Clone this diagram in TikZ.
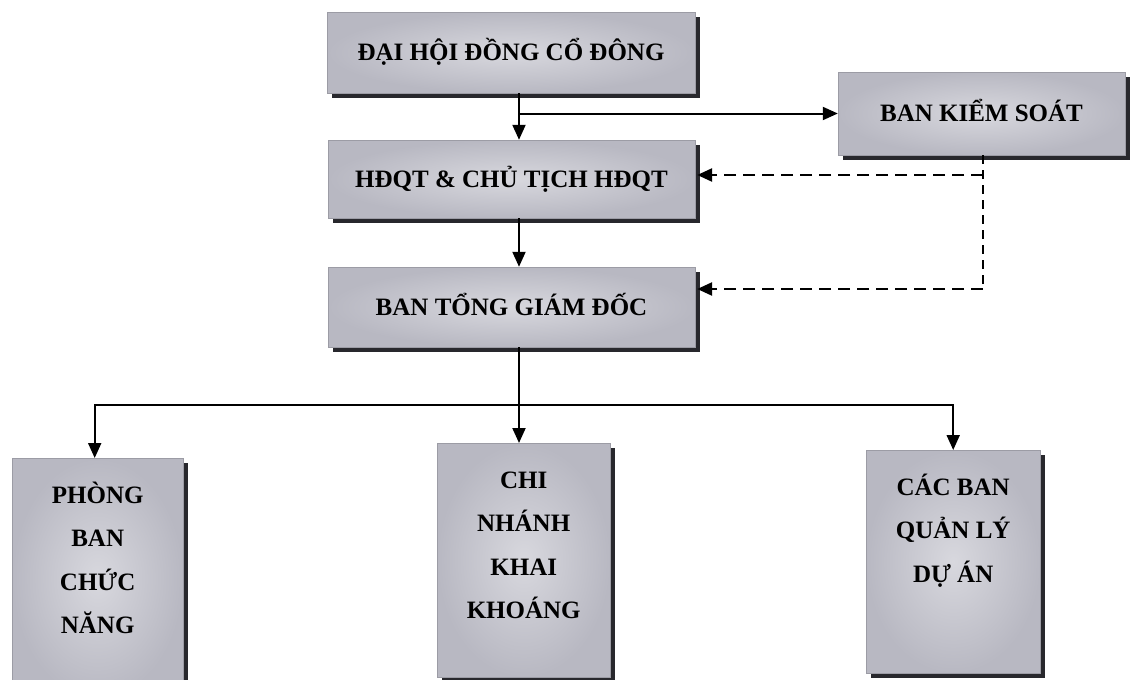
\documentclass[tikz,border=0pt]{standalone}
\usepackage{fontspec}
\setmainfont{Liberation Serif}
\usetikzlibrary{arrows.meta,shadows,calc}
\definecolor{boxedge}{RGB}{184,184,194}
\definecolor{boxmid}{RGB}{216,216,222}
\definecolor{shadowc}{RGB}{40,40,45}
\tikzset{
  orgbox/.style={draw=boxedge!85!black, line width=0.4pt, inner sep=0pt,
    shading=radial, inner color=boxmid, outer color=boxedge,
    drop shadow={shadow xshift=5pt, shadow yshift=-5pt, fill=shadowc, opacity=1},
    font=\fontsize{25}{43.5}\selectfont\bfseries,
    text height=16.5pt, text depth=0pt},
  tallbox/.style={orgbox, text height=, text depth=},
  arr/.style={line width=2pt, -{Triangle[length=15pt,width=13pt]}},
  plainline/.style={line width=2pt},
  dashthick/.style={line width=2.6pt, dash pattern=on 12pt off 7pt, -{Triangle[length=15pt,width=13pt]}},
  dashthin/.style={line width=1.3pt, dash pattern=on 9pt off 6pt}
}
\newcommand{\tallcontent}[3]{\parbox[t][#2][t]{#1}{\centering\rule{0pt}{45pt}#3}}
\begin{document}
\begin{tikzpicture}[x=1pt,y=-1pt]
\clip (0,0) rectangle (1130,680);
\fill[white] (0,0) rectangle (1130,680);

\node[orgbox, minimum width=368pt, minimum height=81pt] (dh) at (511,52.5) {ĐẠI HỘI ĐỒNG CỔ ĐÔNG};
\node[orgbox, minimum width=287pt, minimum height=83pt] (bks) at (981.5,113.5) {BAN KIỂM SOÁT};
\node[orgbox, minimum width=367pt, minimum height=78pt] (hdqt) at (511.5,179) {HĐQT \& CHỦ TỊCH HĐQT};
\node[orgbox, minimum width=367pt, minimum height=80pt] (btgd) at (511.5,307) {BAN TỔNG GIÁM ĐỐC};

\node[tallbox, anchor=north west] (pbcn) at (12,458) {\tallcontent{171pt}{240pt}{PHÒNG\\BAN\\CHỨC\\NĂNG}};
\node[tallbox, anchor=north west] (cnkk) at (437,443) {\tallcontent{173pt}{234pt}{CHI\\NHÁNH\\KHAI\\KHOÁNG}};
\node[tallbox, anchor=north west] (cbql) at (866,450) {\tallcontent{174pt}{223pt}{CÁC BAN\\QUẢN LÝ\\DỰ ÁN}};

\coordinate (mx) at (519,0);
\coordinate (hb) at (0,405);
\coordinate (h1) at ($(hdqt.east)+(2,-4)$);
\coordinate (b1) at ($(btgd.east)+(2,-18)$);
\coordinate (dx) at (983,0);

% solid connectors
\draw[arr] (dh.south -| mx) -- (hdqt.north -| mx);
\draw[arr] (mx |- bks.west) -- (bks.west);
\draw[arr] (hdqt.south -| mx) -- (btgd.north -| mx);
\draw[plainline] (btgd.south -| mx) -- (mx |- hb);
\draw[plainline] ($(pbcn.north |- hb)+(-3,0)$) -- ($(cbql.north |- hb)+(1,0)$);
\draw[arr] ($(pbcn.north |- hb)+(-3,-1)$) -- ($(pbcn.north)+(-3,0)$);
\draw[arr] (mx |- hb) -- (cnkk.north -| mx);
\draw[arr] ($(cbql.north |- hb)+(0,-1)$) -- (cbql.north);

% dashed connectors
\draw[dashthin] (bks.south -| dx) -- (dx |- b1);
\draw[dashthick] (dx |- h1) -- (h1);
\draw[dashthick] (dx |- b1) -- (b1);
\end{tikzpicture}
\end{document}
